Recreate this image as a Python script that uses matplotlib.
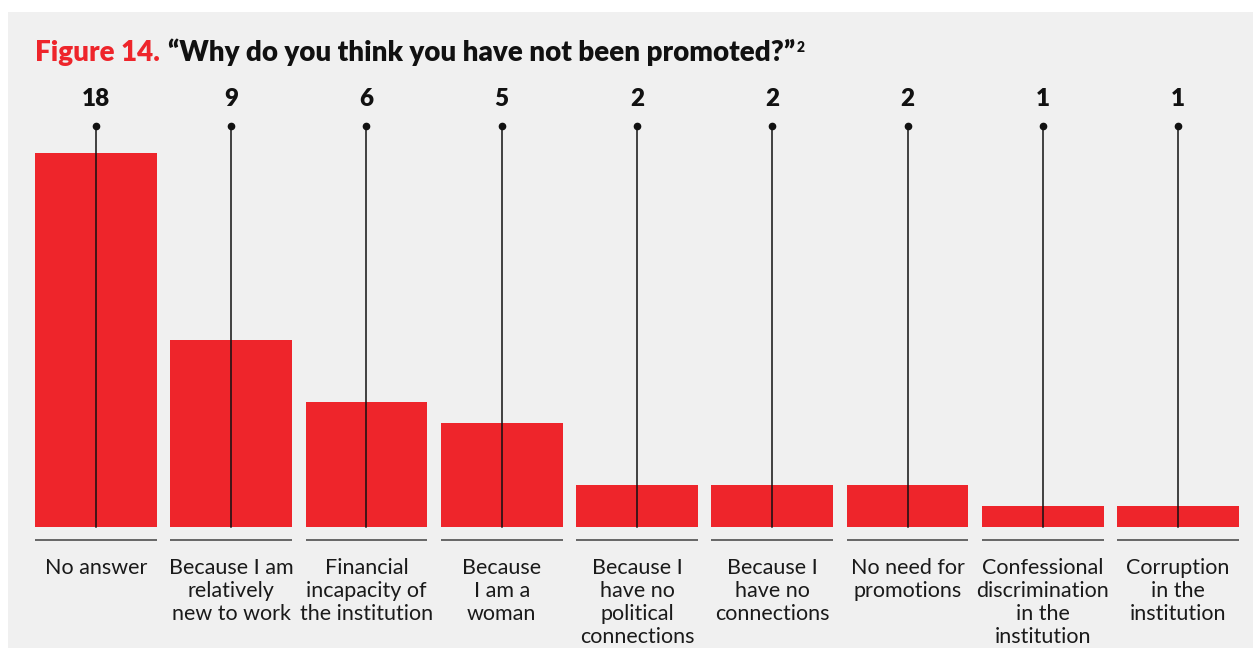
import matplotlib
matplotlib.use("Agg")
import matplotlib.pyplot as plt
from matplotlib.patches import Rectangle

categories = [
    "No answer",
    "Because I am\nrelatively\nnew to work",
    "Financial\nincapacity of\nthe institution",
    "Because\nI am a\nwoman",
    "Because I\nhave no\npolitical\nconnections",
    "Because I\nhave no\nconnections",
    "No need for\npromotions",
    "Confessional\ndiscrimination\nin the\ninstitution",
    "Corruption\nin the\ninstitution",
]
counts = [18, 9, 6, 5, 2, 2, 2, 1, 1]

RED = "#ee252b"
BG = "#f0f0f0"
FONT = "Lato"

W, H = 1253, 648
fig = plt.figure(figsize=(W / 100, H / 100), dpi=100, facecolor="white")

# light grey panel behind everything
fig.patches.append(Rectangle((8 / W, 0), 1 - 8 / W, 1 - 12 / H,
                             transform=fig.transFigure, facecolor=BG,
                             edgecolor="none", zorder=-10))

# axes geometry in pixels
pitch = 135.4
x_left = 96 - pitch / 2
x_right = 1178 + pitch / 2
y_base = 527
px_per_unit = 374 / 18
ymax = 21.5
ax = fig.add_axes([x_left / W, (H - y_base) / H,
                   (x_right - x_left) / W, ymax * px_per_unit / H])
ax.set_xlim(-0.5, len(categories) - 0.5)
ax.set_ylim(0, ymax)
ax.axis("off")
ax.patch.set_alpha(0)

xs = list(range(len(categories)))
bar_w = 122 / pitch
ax.bar(xs, counts, width=bar_w, color=RED, zorder=2)

stem_top = (y_base - 126) / px_per_unit
label_y = (y_base - 99) / px_per_unit
sep_y = -(540 - y_base) / px_per_unit
cat_y = -(557.5 - y_base) / px_per_unit

for x, v, c in zip(xs, counts, categories):
    ax.plot([x, x], [0, stem_top], color="#111111", lw=1.1, zorder=3,
            clip_on=False)
    ax.plot([x], [stem_top], marker="o", ms=4.5, color="#111111", zorder=4,
            clip_on=False)
    ax.text(x, label_y, str(v), ha="center", va="center", fontsize=17.5,
            fontweight="heavy", family=FONT, color="#111111")
    ax.plot([x - bar_w / 2, x + bar_w / 2], [sep_y, sep_y], color="#666666",
            lw=1.4, clip_on=False, solid_capstyle="butt")
    ax.text(x, cat_y, c, ha="center", va="top", fontsize=15.5, family=FONT,
            color="#1a1a1a", linespacing=1.19)

# title
t1 = fig.text(35 / W, 1 - 53 / H, "Figure 14.", color=RED, fontsize=20,
              fontweight="heavy", family=FONT, va="center", ha="left")
a2 = ax.annotate("\u201cWhy do you think you have not been promoted?\u201d",
                 xy=(1, 0), xycoords=t1, xytext=(6, 0),
                 textcoords="offset points", color="#111111", fontsize=20,
                 fontweight="heavy", family=FONT, va="bottom", ha="left",
                 annotation_clip=False)
ax.annotate("2", xy=(1, 1), xycoords=a2, xytext=(1, -2),
            textcoords="offset points", color="#111111", fontsize=10,
            fontweight="heavy", family=FONT, va="top", ha="left",
            annotation_clip=False)

fig.savefig("out.png", dpi=100, facecolor="white")
